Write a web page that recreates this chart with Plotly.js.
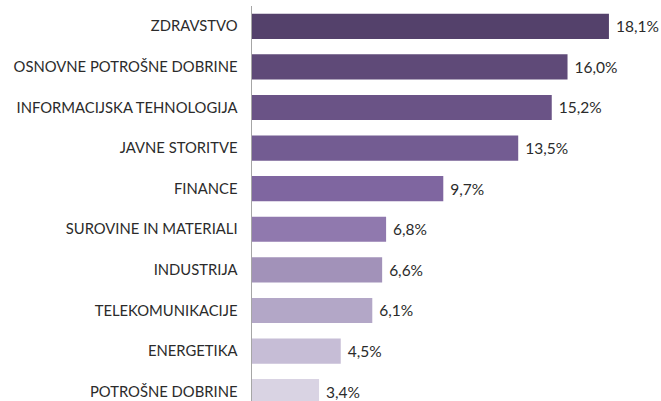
<!DOCTYPE html>
<html><head><meta charset="utf-8">
<script src="https://cdn.plot.ly/plotly-3.0.1.min.js"></script>
<style>html,body{margin:0;padding:0;background:#fff}#c{width:661px;height:401px}</style>
</head><body><div id="c"></div>
<script>
const categories = ["ZDRAVSTVO","OSNOVNE POTROŠNE DOBRINE","INFORMACIJSKA TEHNOLOGIJA","JAVNE STORITVE","FINANCE","SUROVINE IN MATERIALI","INDUSTRIJA","TELEKOMUNIKACIJE","ENERGETIKA","POTROŠNE DOBRINE"];
const values = [18.1,16.0,15.2,13.5,9.7,6.8,6.6,6.1,4.5,3.4];
const labels = ["18,1%","16,0%","15,2%","13,5%","9,7%","6,8%","6,6%","6,1%","4,5%","3,4%"];
const colors = ["#54416b","#5f4a78","#6a5386","#735c92","#7f66a0","#9079ae","#a292b9","#b3a7c7","#c6bdd6","#d9d3e3"];

const trace = {
  type: "bar", orientation: "h",
  y: categories, x: values,
  text: labels, texttemplate: "\u00a0%{text}", textposition: "outside", cliponaxis: false,
  textfont: {family: "Lato, 'Open Sans', sans-serif", size: 15.5, color: "#2b2b2b"},
  marker: {color: colors},
  hoverinfo: "none", width: 0.62
};
const layout = {
  width: 661, height: 401,
  margin: {l: 252, r: 0, t: 6, b: 0},
  paper_bgcolor: "#fff", plot_bgcolor: "#fff",
  showlegend: false,
  font: {family: "Lato, 'Open Sans', sans-serif", size: 14.5, color: "#2b2b2b"},
  xaxis: {range: [0, 20.74], visible: false, showgrid: false, zeroline: false, fixedrange: true},
  yaxis: {type: "category", range: [9.23, -0.5], autorange: false, showline: true, linecolor: "#a6a6a6", linewidth: 1.5,
          ticks: "outside", ticklen: 10, tickcolor: "rgba(0,0,0,0)", showgrid: false, zeroline: false,
          tickfont: {family: "Lato, 'Open Sans', sans-serif", size: 14.8, color: "#2b2b2b"}}
};
Plotly.newPlot("c", [trace], layout, {staticPlot: true, displayModeBar: false});
</script></body></html>
